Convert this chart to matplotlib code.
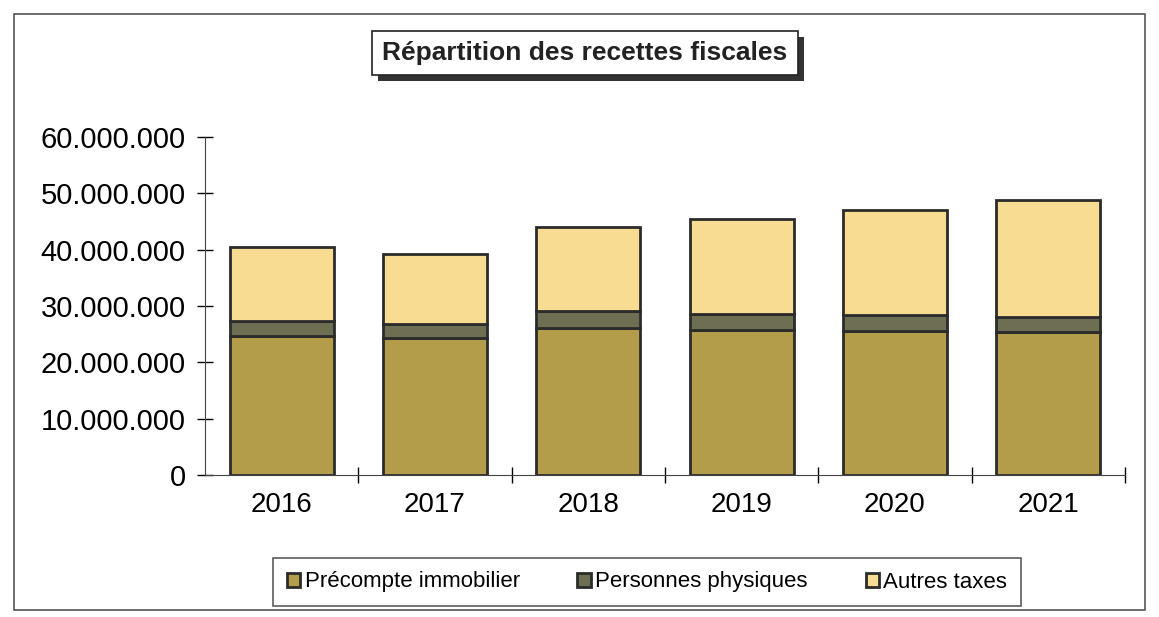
import matplotlib
matplotlib.use("Agg")
from matplotlib import pyplot as plt
from matplotlib.patches import Rectangle
import numpy as np

plt.rcParams['font.family'] = ['Liberation Sans', 'DejaVu Sans']

annees = ["2016", "2017", "2018", "2019", "2020", "2021"]
precompte = [24.7e6, 24.3e6, 26.1e6, 25.8e6, 25.6e6, 25.3e6]
personnes = [2.6e6, 2.5e6, 3.0e6, 2.8e6, 2.8e6, 2.8e6]
autres = [13.2e6, 12.5e6, 14.9e6, 16.9e6, 18.7e6, 20.7e6]

labels = ["Précompte immobilier", "Personnes physiques", "Autres taxes"]
couleurs = ["#b39d4b", "#6e6e52", "#f8dc92"]

W, H = 1159, 617
fig = plt.figure(figsize=(W / 100, H / 100), dpi=100)
ax = fig.add_axes([205 / W, 1 - 475 / H, (1125 - 205) / W, (475 - 137) / H])

x = np.arange(len(annees))
bas = np.zeros(len(annees))
for serie, lab, c in zip([precompte, personnes, autres], labels, couleurs):
    ax.bar(x, serie, bottom=bas, width=0.68, color=c, edgecolor="#2b2b2b",
           linewidth=2, label=lab)
    bas += np.array(serie)

ax.set_xlim(-0.5, len(annees) - 0.5)
ax.set_ylim(0, 60e6)
ax.set_yticks(np.arange(0, 60e6 + 1, 10e6))
ax.set_yticklabels(["0" if v == 0 else f"{int(v):,}".replace(",", ".")
                    for v in np.arange(0, 60e6 + 1, 10e6)])
ax.set_xticks(x)
ax.set_xticklabels(annees)
ax.set_xticks(np.arange(0.5, len(annees), 1.0), minor=True)
ax.tick_params(axis="x", which="major", length=0, pad=12, labelsize=20)
ax.tick_params(axis="x", which="minor", direction="inout", length=12, width=1)
ax.tick_params(axis="y", direction="inout", length=12, width=1, pad=8,
               labelsize=21)
for s in ["top", "right"]:
    ax.spines[s].set_visible(False)
for s in ["left", "bottom"]:
    ax.spines[s].set_color("#444444")

# title in a box, with a dark shadow behind it
titre = fig.text(585 / W, 1 - 53 / H, "Répartition des recettes fiscales",
                 ha="center", va="center", fontsize=19, fontweight="bold",
                 color="#222222", zorder=5,
                 bbox=dict(boxstyle="square,pad=0.38", fc="white",
                           ec="#222222", lw=1.2))
fig.canvas.draw()
bb = titre.get_bbox_patch().get_window_extent().transformed(fig.transFigure.inverted())
fig.patches.append(Rectangle((bb.x0 + 6 / W, bb.y0 - 6 / H), bb.width, bb.height,
                             transform=fig.transFigure, facecolor="#333333",
                             edgecolor="none", zorder=1))

leg = fig.legend(loc="center", bbox_to_anchor=(647 / W, 1 - 582 / H), ncol=3,
                 fontsize=16, frameon=True, fancybox=False, edgecolor="#333333",
                 handlelength=0.6, handleheight=0.6, handletextpad=0.2,
                 columnspacing=2.6, borderpad=0.6)
leg.get_frame().set_linewidth(1.2)

fig.patches.append(Rectangle((14 / W, 1 - 610 / H), (1145 - 14) / W, (610 - 14) / H,
                             transform=fig.transFigure, fill=False,
                             edgecolor="#555555", linewidth=1.2))

fig.savefig("out.png", dpi=100)
